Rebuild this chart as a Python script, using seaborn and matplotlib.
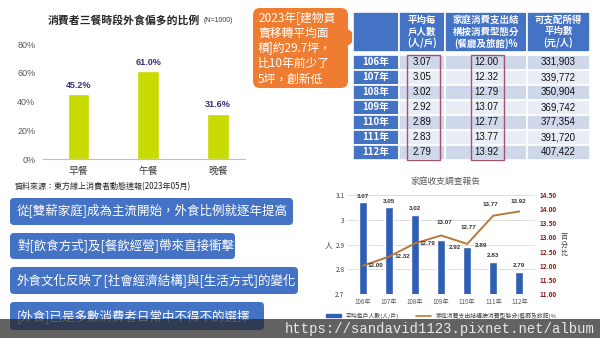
import numpy as np
import matplotlib
matplotlib.use("Agg")
import matplotlib.pyplot as plt
import seaborn as sns
from matplotlib.patches import FancyBboxPatch, Rectangle, Polygon, Patch
from matplotlib.lines import Line2D

# ---- data -------------------------------------------------------------
meals = ["早餐", "午餐", "晚餐"]
meal_pct = [45.2, 61.0, 31.6]

years = ["106年", "107年", "108年", "109年", "110年", "111年", "112年"]
household_size = [3.07, 3.05, 3.02, 2.92, 2.89, 2.83, 2.79]
dining_share = [12.00, 12.32, 12.79, 13.07, 12.77, 13.77, 13.92]
income = [331903, 339772, 350904, 369742, 377354, 391720, 407422]

table_headers = ["", "平均每\n戶人數\n(人/戶)", "家庭消費支出結\n構按消費型態分\n(餐廳及旅館)%", "可支配所得\n平均數\n(元/人)"]
callout_lines = ["2023年[建物買", "賣移轉平均面", "積]約29.7坪，", "比10年前少了", "5坪，創新低"]
statements = [
    "從[雙薪家庭]成為主流開始，外食比例就逐年提高",
    "對[飲食方式]及[餐飲經營]帶來直接衝擊",
    "外食文化反映了[社會經濟結構]與[生活方式]的變化",
    "[外食]已是多數消費者日常中不得不的選擇",
]
legend_labels = ["平均每戶人數(人/戶)", "家庭消費支出結構按消費型態分(餐廳及旅館)%"]

# ---- style ------------------------------------------------------------
sns.set_style("white")
CJK = ["Noto Sans CJK TC", "DejaVu Sans"]
LAT = ["Liberation Sans", "Noto Sans CJK TC"]
plt.rcParams["font.family"] = CJK

W, H = 600, 338


def rect(x0, y0, x1, y1):
    return [x0 / W, 1 - y1 / H, (x1 - x0) / W, (y1 - y0) / H]


fig = plt.figure(figsize=(W / 100, H / 100), dpi=100)
fig.patch.set_facecolor("white")

bg = fig.add_axes([0, 0, 1, 1])
bg.set_xlim(0, W)
bg.set_ylim(H, 0)
bg.axis("off")
bg.set_zorder(0)

# ---- meal bar chart ---------------------------------------------------
ax1 = fig.add_axes(rect(43, 44, 245, 159))
ax1.set_facecolor("none")
sns.barplot(x=meals, y=meal_pct, color="#c8da00", width=0.31, saturation=1, ax=ax1)
ax1.set_ylim(0, 80)
ax1.set_xlim(-0.51, 2.39)
ticks = [0, 20, 40, 60, 80]
ax1.set_yticks(ticks)
ax1.set_yticklabels([f"{t}%" for t in ticks])
ax1.tick_params(axis="y", length=0, pad=5.5, labelsize=6.5, labelcolor="#595959")
ax1.tick_params(axis="x", length=0, pad=5, labelsize=7, labelcolor="#404040")
for lbl in ax1.get_yticklabels():
    lbl.set_fontfamily(LAT)
ax1.set_xlabel("")
ax1.set_ylabel("")
for s in ["left", "right", "top"]:
    ax1.spines[s].set_visible(False)
ax1.spines["bottom"].set_color("#bfbfbf")
ax1.spines["bottom"].set_linewidth(0.8)
ax1.bar_label(ax1.containers[0], fmt="%.1f%%", padding=3, fontsize=6.5,
              fontweight="bold", color="#3b2f7a", family=LAT)

bg.text(48, 20, "消費者三餐時段外食偏多的比例", fontsize=7.8, fontweight="bold",
        color="#262626", va="center", ha="left")
bg.text(204, 21, "(N=1000)", fontsize=5, color="#404040", va="center", ha="left", family=LAT)
bg.text(15, 187, "資料來源：東方線上消費者動態速報(2023年05月)", fontsize=5.8,
        color="#262626", va="center", ha="left")

# ---- orange callout -----------------------------------------------------
r = 7
bg.add_patch(FancyBboxPatch((253 + r, 8 + r), 95 - 2 * r, 80 - 2 * r,
                            boxstyle=f"round,pad={r}", fc="#ee7d31", ec="none", zorder=2))
bg.add_patch(Polygon([(345, 27), (359, 37), (345, 48)], closed=True, fc="#ee7d31",
                     ec="none", zorder=2))
for i, line in enumerate(callout_lines):
    bg.text(258, 18 + 15.25 * i, line, fontsize=8.5, color="white", va="center",
            ha="left", zorder=3)

# ---- data table ---------------------------------------------------------
col_edges = [353, 399, 445, 527, 590]
hdr_top, hdr_bot = 12, 52
row_top, row_h = 54.5, 15
blue = "#4472c4"
for c in range(4):
    x0, x1 = col_edges[c], col_edges[c + 1]
    bg.add_patch(Rectangle((x0, hdr_top), x1 - x0, hdr_bot - hdr_top, fc=blue,
                           ec="white", lw=1.2, zorder=3))
    if table_headers[c]:
        bg.text((x0 + x1) / 2, (hdr_top + hdr_bot) / 2, table_headers[c], fontsize=6.8,
                fontweight="bold", color="white", ha="center", va="center",
                linespacing=1.2, zorder=4)

columns = [
    [f"{v:.2f}" for v in household_size],
    [f"{v:.2f}" for v in dining_share],
    [f"{v:,}" for v in income],
]
for i, yr in enumerate(years):
    y0 = row_top + row_h * i
    fill = "#cfd7ea" if i % 2 == 0 else "#e9edf5"
    bg.add_patch(Rectangle((col_edges[0], y0), col_edges[1] - col_edges[0], row_h,
                           fc=blue, ec="white", lw=1.2, zorder=3))
    bg.text((col_edges[0] + col_edges[1]) / 2, y0 + row_h / 2, yr, fontsize=7,
            fontweight="bold", color="white", ha="center", va="center", zorder=4)
    for c in range(3):
        x0, x1 = col_edges[c + 1], col_edges[c + 2]
        bg.add_patch(Rectangle((x0, y0), x1 - x0, row_h, fc=fill, ec="white",
                               lw=1.2, zorder=3))
        bg.text((x0 + x1) / 2, y0 + row_h / 2, columns[c][i], fontsize=7,
                color="#111111", ha="center", va="center", family=LAT, zorder=4)

tbl_bottom = row_top + row_h * len(years)
for x0, x1 in [(407, 440), (471, 504)]:
    bg.add_patch(Rectangle((x0, row_top), x1 - x0, tbl_bottom - row_top, fc="none",
                           ec="#a0526e", lw=1.0, zorder=5))

# ---- blue statement boxes ------------------------------------------------
box_geom = [(10, 198, 293, 225), (10, 233, 235, 259), (10, 267, 298, 294), (10, 302, 264, 330)]
for text, (x0, y0, x1, y1) in zip(statements, box_geom):
    rr = 4
    bg.add_patch(FancyBboxPatch((x0 + rr, y0 + rr), x1 - x0 - 2 * rr, y1 - y0 - 2 * rr,
                                boxstyle=f"round,pad={rr}", fc="#4472c4", ec="none",
                                zorder=2))
    bg.text(17, (y0 + y1) / 2, text, fontsize=9, color="white", va="center",
            ha="left", zorder=3)

# ---- household survey combo chart -------------------------------------
ax2 = fig.add_axes(rect(348, 195, 535, 294))
ax2.set_facecolor("none")
sns.barplot(x=years, y=household_size, color="#2f5fb3", width=0.31, saturation=1, ax=ax2)
ax2.set_ylim(2.7, 3.1)
ax2.set_xlim(-0.57, 6.6)
lt = [2.7, 2.8, 2.9, 3.0, 3.1]
ax2.set_yticks(lt)
ax2.set_yticklabels([f"{t:g}" for t in lt])
ax2.grid(axis="y", color="#d9d9d9", lw=0.6)
ax2.set_axisbelow(True)
ax2.tick_params(axis="y", length=0, pad=2.5, labelsize=4.8, labelcolor="#404040")
ax2.tick_params(axis="x", length=0, pad=3, labelsize=4.5, labelcolor="#595959")
ax2.set_xlabel("")
ax2.set_ylabel("")
for s in ax2.spines.values():
    s.set_visible(False)

ax3 = ax2.twinx()
xs = np.arange(len(years))
sns.lineplot(x=xs, y=dining_share, ax=ax3, color="#b9783a", lw=1.4)
ax3.set_xlim(-0.57, 6.6)
ax3.set_ylim(11, 14.5)
rt = np.arange(11, 14.51, 0.5)
ax3.set_yticks(rt)
ax3.set_yticklabels([f"{t:.2f}" for t in rt])
ax3.tick_params(axis="y", length=0, pad=3, labelsize=4.6, labelcolor="#8c1c13")
for lbl in ax3.get_yticklabels():
    lbl.set_fontweight("bold")
ax3.set_ylabel("")
for s in ax3.spines.values():
    s.set_visible(False)

bar_offsets = [(0, 5.5), (0, 6), (0, 6.5), (14, -8), (14, 1), (0, 6), (0, 6)]
for i, (v, off) in enumerate(zip(household_size, bar_offsets)):
    ax2.annotate(f"{v:.2f}", xy=(i, v), xytext=off, textcoords="offset pixels",
                 ha="center", va="center", fontsize=4.5, fontweight="bold",
                 color="#333333", family=LAT)
line_offsets = [(12.5, 0), (13.5, 0), (12.5, 0), (3, 12.7), (1.6, 16), (-2.7, 11.3), (-1, 9.7)]
for i, (v, off) in enumerate(zip(dining_share, line_offsets)):
    ax3.annotate(f"{v:.2f}", xy=(i, v), xytext=off, textcoords="offset pixels",
                 ha="center", va="center", fontsize=4.5, fontweight="bold",
                 color="#333333", family=LAT)

handles = [Patch(color="#2f5fb3"), Line2D([0], [0], color="#b9783a", lw=1.2)]
ax2.legend(handles, legend_labels, loc="upper center", bbox_to_anchor=(0.5, -0.13),
           ncol=2, fontsize=4.2, frameon=False, handlelength=2.5, handleheight=0.6,
           columnspacing=3, labelcolor="#404040")

bg.text(445, 181, "家庭收支調查報告", fontsize=6.3, color="#595959", ha="center", va="center")
bg.text(328, 245, "人", fontsize=5.5, color="#404040", ha="center", va="center")
bg.text(564, 245, "百\n分\n比", fontsize=5, color="#404040", ha="center", va="center",
        linespacing=1.0)

# ---- watermark band -----------------------------------------------------
fg = fig.add_axes([0, 0, 1, 1])
fg.set_xlim(0, W)
fg.set_ylim(H, 0)
fg.axis("off")
fg.set_zorder(10)
fg.add_patch(Rectangle((0, 319), W, H - 319, fc="#262626", ec="none", alpha=0.72))
fg.text(285, 329, "https://sandavid1123.pixnet.net/album", fontsize=10,
        family=["Liberation Mono", "DejaVu Sans Mono"], color="#e8e8e8",
        ha="left", va="center")

fig.savefig("out.png", dpi=100)
